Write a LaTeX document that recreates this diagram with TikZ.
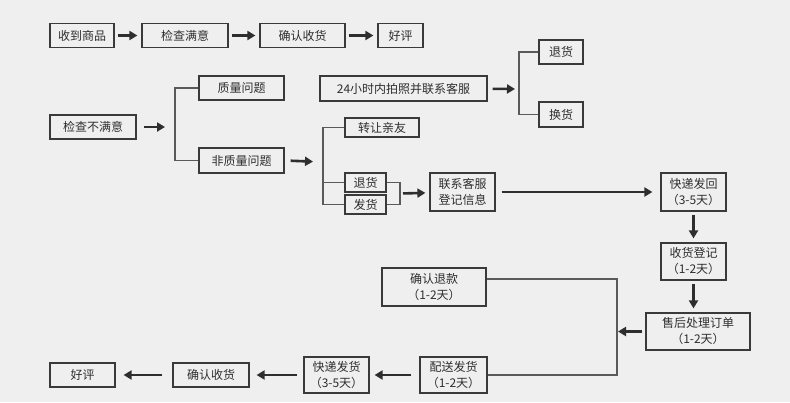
\documentclass[tikz,border=0pt]{standalone}
\usepackage{fontspec}
\setmainfont{Noto Sans CJK SC}
\usepackage{xcolor}
\usetikzlibrary{arrows.meta,calc}
\definecolor{pagegray}{HTML}{EFEFEF}
\definecolor{boxline}{HTML}{3A3A3A}
\definecolor{linkgray}{HTML}{5A5A5A}
\definecolor{inkgray}{HTML}{2E2E2E}
\tikzset{
  flowbox/.style={draw=boxline, line width=1.2pt, inner sep=0pt,
    minimum height=24pt, text=inkgray, align=center,
    font=\fontsize{12}{16}\selectfont},
  fatarrow/.style={draw=inkgray, line width=2.6pt,
    -{Triangle[length=8pt,width=9pt]}, shorten <=3pt, shorten >=4pt},
  branch/.style={draw=linkgray, line width=1.3pt}
}
\begin{document}
\begin{tikzpicture}[x=1pt,y=-1pt]
  \fill[pagegray] (0,0) rectangle (790,402);

  \node[flowbox, minimum width=64pt] (recv) at (82,35.5) {收到商品};
  \node[flowbox, minimum width=86pt] (chkok) at (185,35.5) {检查满意};
  \node[flowbox, minimum width=85pt] (confirmA) at (302.5,35.5) {确认收货};
  \node[flowbox, minimum width=45pt] (goodA) at (400.5,35.5) {好评};

  \node[flowbox, minimum width=86pt] (notok) at (93,127) {检查不满意};
  \node[flowbox, minimum width=85pt] (quality) at (241.5,88) {质量问题};
  \node[flowbox, minimum width=85pt, minimum height=25pt] (nonqual) at (241.5,160.5) {非质量问题};
  \node[flowbox, minimum width=167pt, minimum height=25pt] (photo) at (403.5,88.5) {24小时内拍照并联系客服};
  \node[flowbox, minimum width=44pt] (retA) at (561,52) {退货};
  \node[flowbox, minimum width=44pt, minimum height=25pt] (exch) at (561,114.5) {换货};

  \node[flowbox, minimum width=74pt, minimum height=19pt] (gift) at (382,127.5) {转让亲友};
  \node[flowbox, minimum width=41pt, minimum height=19pt] (retB) at (365.5,182.5) {退货};
  \node[flowbox, minimum width=41pt, minimum height=19pt] (shipA) at (365.5,204.5) {发货};
  \node[flowbox, minimum width=65pt, minimum height=38pt] (contact) at (462.5,192) {联系客服\\登记信息};

  \node[flowbox, minimum width=65pt, minimum height=38pt] (sendback) at (693.5,192) {快递发回\\（3-5天）};
  \node[flowbox, minimum width=65pt, minimum height=37pt] (register) at (693.5,261.5) {收货登记\\（1-2天）};
  \node[flowbox, minimum width=104pt, minimum height=37pt] (aftersale) at (698,331.5) {售后处理订单\\（1-2天）};
  \node[flowbox, minimum width=104pt, minimum height=38pt] (refund) at (434,287) {确认退款\\（1-2天）};
  \node[flowbox, minimum width=67pt, minimum height=36pt] (deliver) at (453.5,375) {配送发货\\（1-2天）};
  \node[flowbox, minimum width=65pt, minimum height=36pt] (express) at (336.5,375) {快递发货\\（3-5天）};
  \node[flowbox, minimum width=76pt] (confirmB) at (211,375) {确认收货};
  \node[flowbox, minimum width=65pt] (goodB) at (82.5,375) {好评};

  \coordinate (forkA) at (175,127);
  \coordinate (forkB) at (323,162);
  \coordinate (joinA) at (400,193.5);
  \coordinate (forkC) at (519,89);
  \coordinate (joinB) at (617,331.5);

  \draw[fatarrow] (recv) -- (chkok);
  \draw[fatarrow] (chkok) -- (confirmA);
  \draw[fatarrow] (confirmA) -- (goodA);

  \draw[fatarrow, shorten <=7pt, shorten >=10pt] (notok) -- (forkA);
  \draw[branch] (quality.west) -| (forkA) |- (nonqual.west);
  \draw[fatarrow, shorten <=6pt, shorten >=10pt] (nonqual.east) -- (forkB);
  \draw[branch] (gift.west) -| (forkB) |- (shipA.west);
  \draw[branch] (forkB) |- (retB.west);
  \draw[branch] (retB.east) -| (joinA) |- (shipA.east);
  \draw[fatarrow] (joinA) -- (contact);
  \draw[fatarrow, shorten <=6pt, shorten >=8pt] (contact) -- (sendback);

  \draw[fatarrow, shorten <=5pt, shorten >=4pt] (photo) -- (forkC);
  \draw[branch] (retA.west) -| (forkC) |- (exch.west);

  \draw[fatarrow] (sendback) -- (register);
  \draw[fatarrow] (register.south) -- (register.south |- aftersale.north);
  \draw[fatarrow, shorten >=1pt] (aftersale) -- (joinB);
  \draw[branch] ([yshift=8pt]refund.east) -| (joinB) |- (deliver.east);

  \draw[fatarrow, shorten <=8pt, shorten >=5pt] (deliver) -- (express);
  \draw[fatarrow, shorten <=6pt, shorten >=7pt] (express) -- (confirmB);
  \draw[fatarrow, shorten <=10pt, shorten >=8pt] (confirmB) -- (goodB);
\end{tikzpicture}
\end{document}
